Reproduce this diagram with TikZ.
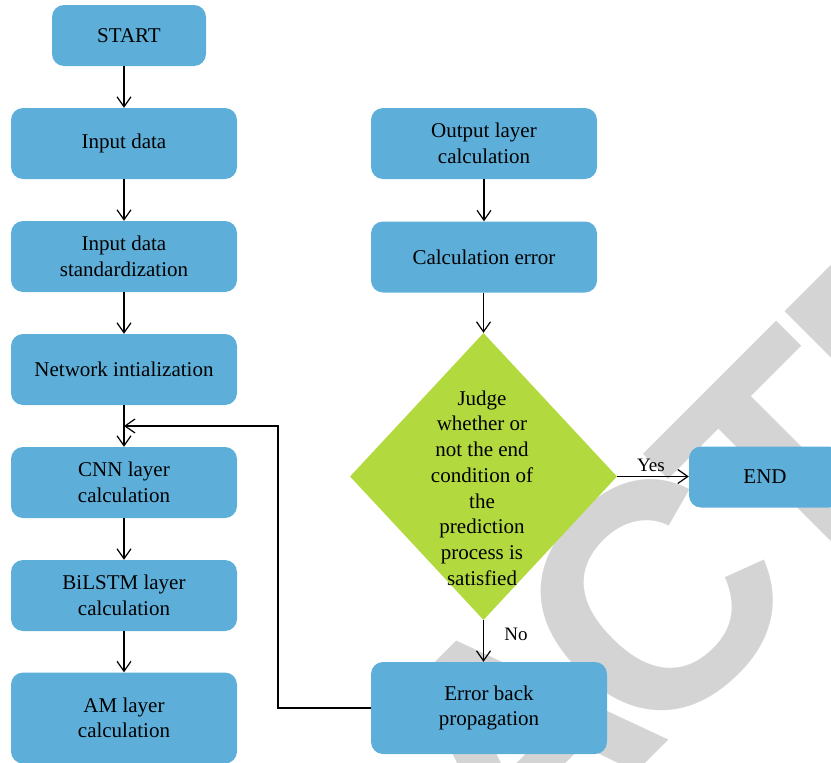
\documentclass[tikz,border=0pt]{standalone}
\usepackage{fontspec}
\setmainfont{Liberation Serif}
\newfontfamily\wmfont{Liberation Sans}
\usetikzlibrary{shapes.geometric,arrows.meta}
\definecolor{boxblue}{RGB}{93,175,218}
\definecolor{decgreen}{RGB}{178,217,62}
\definecolor{wmgray}{RGB}{212,212,212}
\begin{document}
\begin{tikzpicture}[x=1pt,y=-1pt,
  proc/.style={rectangle, rounded corners=12pt, fill=boxblue, minimum width=226pt,
    minimum height=71pt, inner sep=0pt, align=center,
    font=\fontsize{21}{25.5}\selectfont},
  decision/.style={diamond, fill=decgreen, minimum width=267pt, minimum height=287pt,
    inner sep=0pt},
  body/.style={align=center, font=\fontsize{21}{25.7}\selectfont, inner sep=0pt},
  flow/.style={draw=black, line width=1.2pt,
    -{Straight Barb[length=10pt,width=14pt]}},
  tag/.style={font=\fontsize{19}{22}\selectfont, inner sep=0pt},
  wm/.style={text=wmgray, font=\wmfont\bfseries\fontsize{320}{320}\selectfont,
    rotate=45, inner sep=0pt, outer sep=0pt, anchor=center}
]
\useasboundingbox (0,0) rectangle (831,763);

% background stamp, one letter at a time along a 45 degree baseline
\begin{scope}
  \clip (0,0) rectangle (831,763);
  \node[wm] (wmR1) at (-39,1292) {R};
  \node[wm] (wmE1) at (97,1156) {E};
  \node[wm] (wmT1) at (223,1030) {T};
  \node[wm] (wmR2) at (354,899) {R};
  \node[wm] (wmA)  at (515,738) {A};
  \node[wm] (wmC)  at (653.5,599.5) {C};
  \node[wm] (wmT2) at (787.5,465.5) {T};
  \node[wm] (wmE2) at (923.5,329.5) {E};
  \node[wm] (wmD)  at (1050,203) {D};
\end{scope}

% left column
\node[proc, minimum width=154pt, minimum height=61pt] (start) at (129,35.5) {START};
\node[proc] (input)  at (124,143.5) {Input data};
\node[proc] (std)    at (124,256.5) {Input data\\standardization};
\node[proc] (init)   at (124,369.5) {Network intialization};
\node[proc] (cnn)    at (124,482.5) {CNN layer\\calculation};
\node[proc] (bilstm) at (124,595.5) {BiLSTM layer\\calculation};
\node[proc, minimum height=91pt] (am) at (124,718) {AM layer\\calculation};

% right column
\node[proc] (outp) at (484,143.5) {Output layer\\calculation};
\node[proc] (calc) at (484,257) {Calculation error};
\node[decision] (judge) at (483.5,476.5) {};
\node[body] (judgetext) at (482,488) {Judge\\whether or\\not the end\\condition of\\the\\prediction\\process is\\satisfied};
\node[proc, minimum width=236pt, minimum height=92pt] (back) at (489,708) {Error back\\propagation};
\node[proc, minimum width=152pt, minimum height=61pt] (finish) at (765,477) {END};

% connectors
\draw[flow] (input.north |- start.south) -- (input.north);
\draw[flow] (input) -- (std);
\draw[flow] (std) -- (init);
\draw[flow] (init) -- (cnn);
\draw[flow] (cnn) -- (bilstm);
\draw[flow] (bilstm) -- (am);
\draw[flow] (outp) -- (calc);
\draw[flow] (judge.north |- calc.south) -- (judge.north);
\draw[flow] (judge.east) -- (finish.west |- judge.east);
\draw[flow] (judge.south) -- (judge.south |- back.north);

\coordinate (loopcorner) at (278,708);
\coordinate (merge) at (124,426);
\draw[flow] (back.west) -- (loopcorner) |- (merge);

\node[tag] (yes) at (651,465) {Yes};
\node[tag] (no)  at (516,634) {No};
\end{tikzpicture}
\end{document}
